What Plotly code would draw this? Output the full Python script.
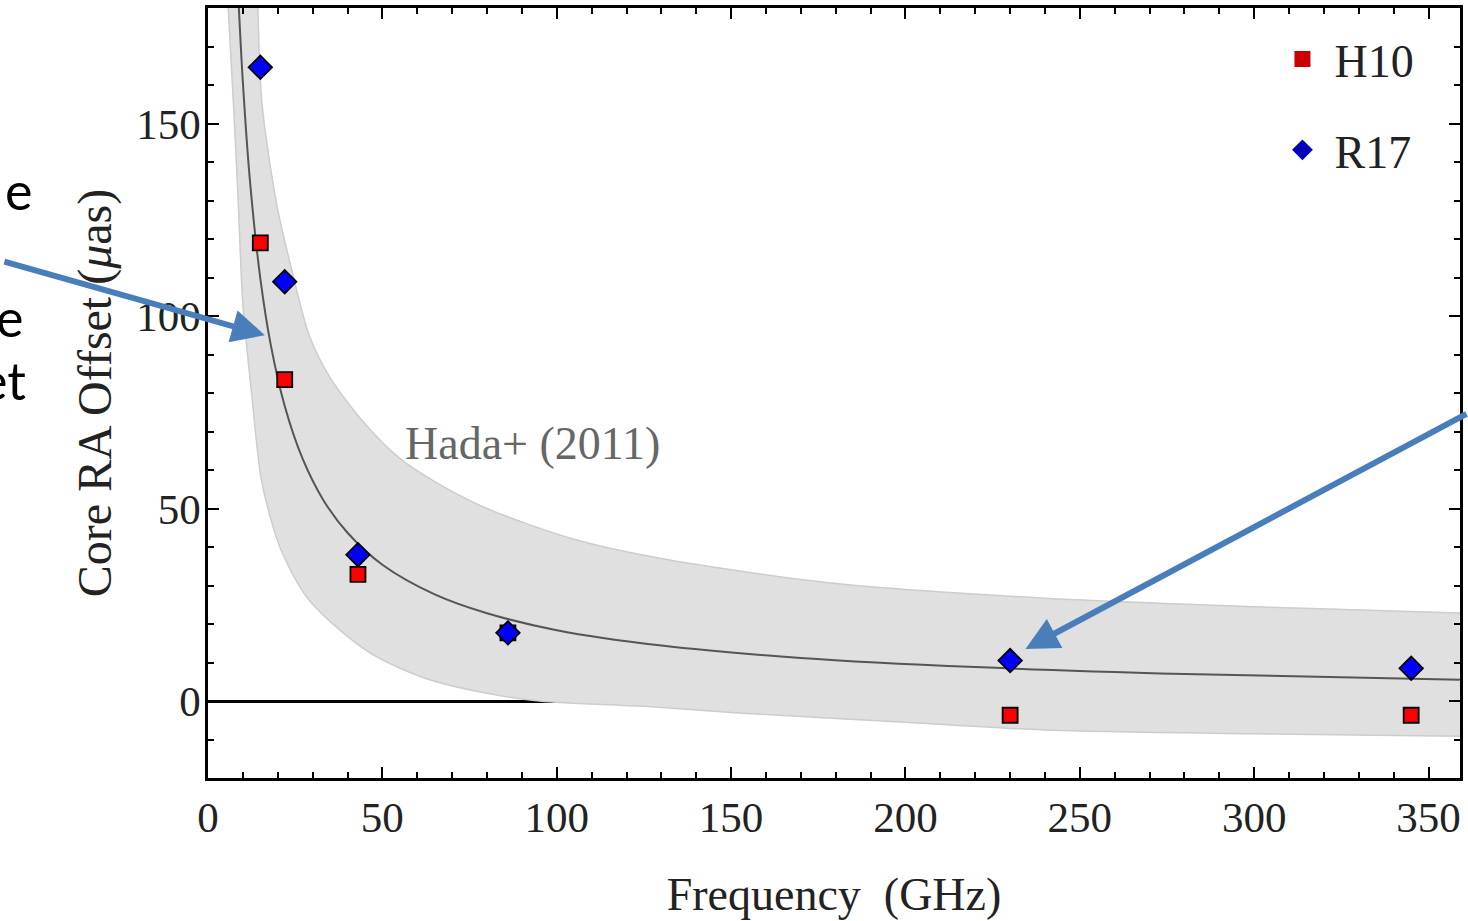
import plotly.graph_objects as go

# ---- data ----
freq_obs = [15, 22, 43, 86, 230, 345]
h10_offset = [119, 83.5, 32.9, 17.7, -3.7, -3.7]
r17_offset = [164.6, 108.9, 38.0, 17.7, 10.5, 8.5]

curve_freq = [8.8, 10, 12, 15, 18, 22, 27, 33, 40, 50, 65, 80, 100, 130, 170, 220, 280, 360]
curve_val = [181, 160.7, 135.4, 109.8, 92.5, 76.6, 63.2, 52.3, 43.7, 35.4, 27.7, 22.8, 18.4, 14.4, 11.2, 8.8, 7.0, 5.5]

upper_freq = [14.3, 15.5, 19.7, 24, 29, 35, 45, 55, 65, 80, 105, 130, 180, 240, 300, 362]
upper_val = [180, 155, 129, 112, 95, 84, 72, 63, 57, 50, 42, 37, 30.5, 26.7, 24.5, 22.8]

lower_freq = [5.8, 7.3, 8.7, 10, 12.5, 15.4, 20.6, 28.3, 39.7, 49.3, 63.6, 80, 95, 127, 150, 200, 240, 300, 362]
lower_val = [180, 155, 129, 103, 80, 57, 40, 27, 17, 11, 5.5, 2, 0, -1.5, -3, -5.5, -7.5, -8.5, -9.2]

x_ticks = [0, 50, 100, 150, 200, 250, 300, 350]
y_ticks = [0, 50, 100, 150]

SERIF = "Liberation Serif, DejaVu Serif, serif"
FS = 43
FT = 46

fig = go.Figure()

# uncertainty band: lower edge, then upper edge filled down to it
fig.add_trace(go.Scatter(
    x=lower_freq, y=lower_val, mode="lines",
    line=dict(color="#cdcdcd", width=1.5, shape="spline", smoothing=0.8),
    showlegend=False, hoverinfo="skip"))
fig.add_trace(go.Scatter(
    x=upper_freq, y=upper_val, mode="lines", fill="tonexty", fillcolor="#e0e0e0",
    line=dict(color="#cdcdcd", width=1.5, shape="spline", smoothing=0.8),
    showlegend=False, hoverinfo="skip"))

# model curve
fig.add_trace(go.Scatter(
    x=curve_freq, y=curve_val, mode="lines",
    line=dict(color="#555555", width=2, shape="spline"),
    showlegend=False))

# data
fig.add_trace(go.Scatter(
    x=freq_obs, y=h10_offset, mode="markers", showlegend=False,
    marker=dict(symbol="square", size=15, color="#ff0000",
                line=dict(color="black", width=1.8))))
fig.add_trace(go.Scatter(
    x=freq_obs, y=r17_offset, mode="markers", showlegend=False,
    marker=dict(symbol="diamond", size=18, color="#0000ff",
                line=dict(color="black", width=1.8))))

# legend entries (no outline, like the reference)
fig.add_trace(go.Scatter(
    x=[None], y=[None], mode="markers", name="H10", legendgroup="a",
    marker=dict(symbol="square", size=16, color="#cc0000")))
fig.add_trace(go.Scatter(
    x=[None], y=[None], mode="markers", name="R17", legendgroup="b",
    marker=dict(symbol="diamond", size=18, color="#0000bb")))

axis_common = dict(
    showline=True, linecolor="black", linewidth=2.5, mirror="ticks",
    ticks="inside", ticklen=11, tickwidth=2, tickcolor="black",
    showgrid=False,
    tickfont=dict(family=SERIF, size=FS, color="#222222"),
)

fig.update_xaxes(
    range=[0, 359], tickvals=x_ticks, zeroline=False,
    minor=dict(ticks="inside", ticklen=6, tickwidth=1.5, tickcolor="black", dtick=10, tick0=0, showgrid=False),
    title=dict(text="Frequency  (GHz)", font=dict(family=SERIF, size=FT, color="#222222"), standoff=38),
    **axis_common)
fig.update_yaxes(
    range=[-20, 180], tickvals=y_ticks, zeroline=True, zerolinecolor="black", zerolinewidth=2.5,
    minor=dict(ticks="inside", ticklen=6, tickwidth=1.5, tickcolor="black", dtick=10, tick0=0, showgrid=False),
    title=dict(text="Core RA Offset (<i>μ</i>as)", font=dict(family=SERIF, size=48, color="#222222"), standoff=10),
    ticklabelstandoff=-4,
    **axis_common)

annotations = [
    dict(x=55.9, y=66.9, xref="x", yref="y", text="Hada+ (2011)", showarrow=False,
         xanchor="left", yanchor="middle",
         font=dict(family=SERIF, size=FT, color="#666666")),
    # arrows
    dict(x=16.3, y=95.0, xref="x", yref="y", text="", showarrow=True,
         ax=-262, ay=-74, arrowhead=2, arrowsize=1.1, arrowwidth=6, arrowcolor="#4a7ebb"),
    dict(x=234.4, y=13.5, xref="x", yref="y", text="", showarrow=True,
         ax=455, ay=-236, arrowhead=2, arrowsize=1.1, arrowwidth=6, arrowcolor="#4a7ebb"),
]
# cropped slide text at the left edge
for txt, px, py in [("e", 34, 188), ("e", 25, 315), ("et", 28, 378)]:
    annotations.append(dict(
        x=(px - 208) / 1254, y=(778 - py) / 773, xref="paper", yref="paper",
        text=txt, showarrow=False, xanchor="right", yanchor="middle",
        font=dict(family="Lato, Open Sans, sans-serif", size=52, color="black")))

fig.update_layout(
    width=1468, height=921,
    margin=dict(l=208, r=6, t=5, b=143),
    paper_bgcolor="white", plot_bgcolor="white",
    showlegend=True,
    legend=dict(x=0.8486, y=0.981, xanchor="left", yanchor="top",
                font=dict(family=SERIF, size=FT, color="#222222"),
                bgcolor="rgba(0,0,0,0)", tracegroupgap=28, itemsizing="trace",
                itemwidth=54),
    annotations=annotations,
)

fig.write_html("out.html", config={"displayModeBar": False},
               post_script="document.body.style.margin='0px';document.body.style.overflow='hidden';")
